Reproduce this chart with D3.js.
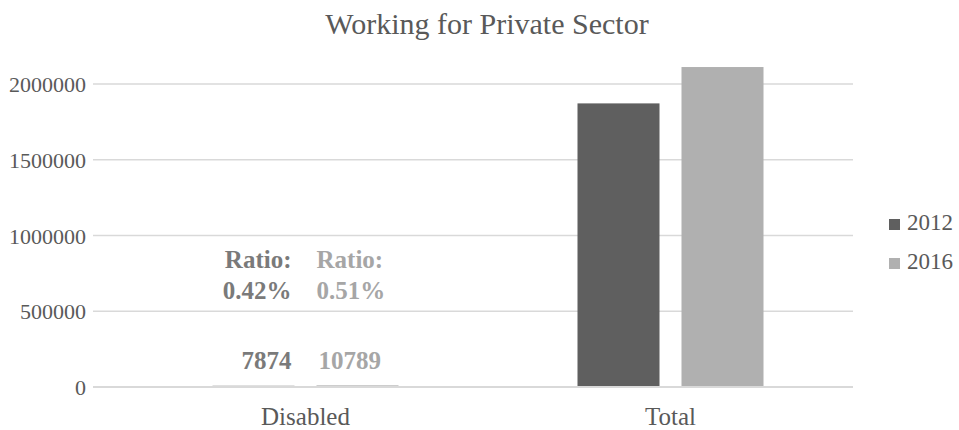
<!DOCTYPE html>
<html lang="en">
<head>
  <meta charset="UTF-8" />
  <title>Working for Private Sector</title>
  <script src="https://d3js.org/d3.v7.min.js"></script>
  <style>
    body {
      margin: 0;
      background: #fff;
    }
    svg text {
      font-family: "Liberation Serif", "DejaVu Serif";
      fill: #595959;
    }
    .grid line {
      stroke: #d9d9d9;
      stroke-width: 1.5;
    }
  </style>
</head>
<body>

<svg id="chart" width="959" height="430"></svg>

<script>
/* ---------------- DATA ---------------- */

const categories = ["Disabled", "Total"];
const years = ["2012", "2016"];
const values2012 = [7874, 1872000];
const values2016 = [10789, 2112000];
const ratios = ["0.42%", "0.51%"];
const yTicks = [0, 500000, 1000000, 1500000, 2000000];

const colors = { "2012": "#5f5f5f", "2016": "#b0b0b0" };
const labelColors = { "2012": "#7a7a7a", "2016": "#a6a6a6" };

/* ---------------- SETUP ---------------- */

const svg = d3.select("#chart");
const gridLeft = 93, gridRight = 853;
const plotTop = 84, plotBottom = 387;

const x0 = d3.scaleBand()
  .domain(categories)
  .range([123, 853]);

const x1 = d3.scaleBand()
  .domain(years)
  .range([x0.bandwidth() / 2 - 93, x0.bandwidth() / 2 + 93])
  .paddingInner(22 / 104);

const y = d3.scaleLinear()
  .domain([0, 2000000])
  .range([plotBottom, plotTop]);

/* ---------------- TITLE ---------------- */

svg.append("text")
  .attr("x", 487)
  .attr("y", 34)
  .attr("text-anchor", "middle")
  .style("font-size", "30px")
  .text("Working for Private Sector");

/* ---------------- GRID + Y AXIS ---------------- */

const grid = svg.append("g").attr("class", "grid");
grid.selectAll("line")
  .data(yTicks.slice(1))
  .enter()
  .append("line")
  .attr("x1", gridLeft)
  .attr("x2", gridRight)
  .attr("y1", d => y(d))
  .attr("y2", d => y(d));

const yAxis = svg.append("g")
  .attr("transform", `translate(${gridLeft - 7},0)`)
  .call(d3.axisLeft(y).tickValues(yTicks).tickSize(0).tickPadding(0).tickFormat(d3.format("d")));
yAxis.select(".domain").remove();
yAxis.selectAll("text")
  .attr("dy", "0.35em")
  .style("font-size", "22px");

/* ---------------- BARS ---------------- */

const rows = categories.map((c, i) => ({
  category: c,
  ratio: ratios[i],
  bars: [
    { year: "2012", value: values2012[i] },
    { year: "2016", value: values2016[i] }
  ]
}));

const groups = svg.selectAll(".group")
  .data(rows)
  .enter()
  .append("g")
  .attr("class", "group")
  .attr("transform", d => `translate(${x0(d.category)},0)`);

groups.selectAll("rect")
  .data(d => d.bars)
  .enter()
  .append("rect")
  .attr("x", d => x1(d.year))
  .attr("width", x1.bandwidth())
  .attr("y", d => y(d.value))
  .attr("height", d => plotBottom - y(d.value))
  .attr("fill", d => colors[d.year]);

// zero line drawn over the bars
svg.append("line")
  .attr("x1", gridLeft)
  .attr("x2", gridRight)
  .attr("y1", y(0))
  .attr("y2", y(0))
  .attr("stroke", "#d9d9d9")
  .attr("stroke-width", 2);

/* ---------------- DISABLED LABELS ---------------- */

const disabled = rows[0];
const labelGroup = svg.append("g")
  .attr("transform", `translate(${x0("Disabled")},0)`);

disabled.bars.forEach((b, i) => {
  const is2012 = b.year === "2012";
  const lx = is2012 ? x1(b.year) + x1.bandwidth() - 3 : x1(b.year);
  const anchor = is2012 ? "end" : "start";
  const g = labelGroup.append("g")
    .attr("text-anchor", anchor)
    .style("font-weight", "bold")
    .style("font-size", "25px");
  g.append("text").attr("x", lx).attr("y", 268).style("fill", labelColors[b.year]).text("Ratio:");
  g.append("text").attr("x", lx).attr("y", 299).style("fill", labelColors[b.year]).text(ratios[i]);
  g.append("text").attr("x", is2012 ? lx : lx + 2).attr("y", 369).style("fill", labelColors[b.year]).text(b.value);
});

/* ---------------- X AXIS ---------------- */

svg.selectAll(".xlabel")
  .data(categories)
  .enter()
  .append("text")
  .attr("class", "xlabel")
  .attr("x", d => x0(d) + x0.bandwidth() / 2)
  .attr("y", 425)
  .attr("text-anchor", "middle")
  .style("font-size", "25px")
  .text(d => d);

/* ---------------- LEGEND ---------------- */

const legend = svg.selectAll(".legend")
  .data(years)
  .enter()
  .append("g")
  .attr("class", "legend")
  .attr("transform", (d, i) => `translate(889,${219 + i * 39})`);

legend.append("rect")
  .attr("width", 11)
  .attr("height", 11)
  .attr("fill", d => colors[d]);

legend.append("text")
  .attr("x", 18)
  .attr("y", 11)
  .style("font-size", "23px")
  .text(d => d);
</script>

</body>
</html>
